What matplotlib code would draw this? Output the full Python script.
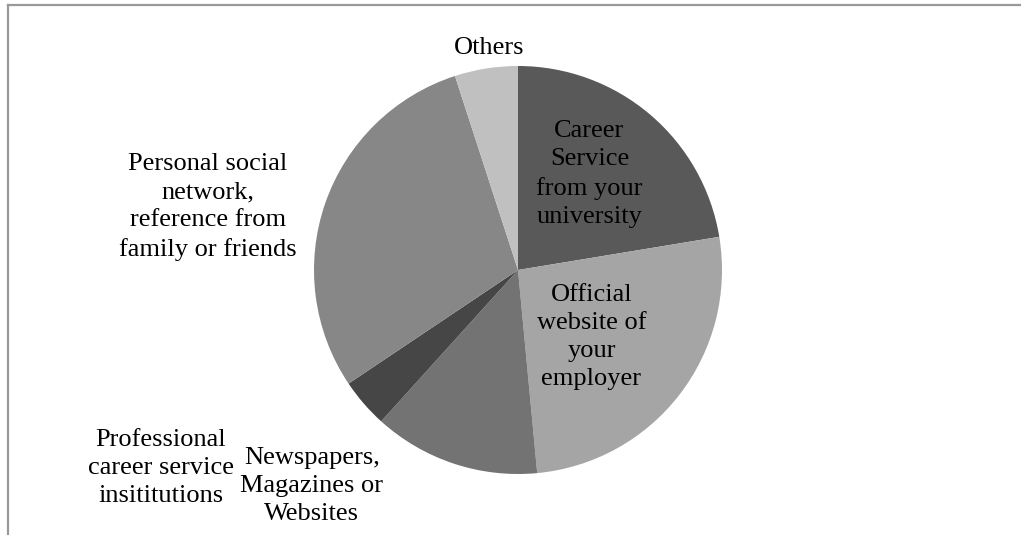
import matplotlib
matplotlib.use("Agg")
import matplotlib.pyplot as plt
from matplotlib.lines import Line2D

# channels used to find the job (share of answers, %)
channels = ["Career\nService\nfrom your\nuniversity",
            "Official\nwebsite of\nyour\nemployer",
            "Newspapers,\nMagazines or\nWebsites",
            "Professional\ncareer service\ninsititutions",
            "Personal social\nnetwork,\nreference from\nfamily or friends",
            "Others"]
shares = [22.4, 26.1, 13.2, 3.9, 29.4, 5.0]

greys = ["#595959", "#a5a5a5", "#737373", "#464646", "#878787", "#c0c0c0"]

# label centres in pie units (radius = 1)
label_pos = [(0.35, 0.47), (0.36, -0.33), (-1.01, -1.06),
             (-1.75, -0.97), (-1.52, 0.31), (-0.14, 1.09)]

W, H = 1021, 535
fig = plt.figure(figsize=(W / 100, H / 100), dpi=100)
cx, cy, r = 518, 270, 204
ax = fig.add_axes([(cx - r) / W, (H - cy - r) / H, 2 * r / W, 2 * r / H])

ax.pie(shares, colors=greys, startangle=90, counterclock=False,
       wedgeprops=dict(linewidth=0), radius=1)
ax.set_xlim(-1, 1)
ax.set_ylim(-1, 1)
ax.set_aspect("equal")
ax.axis("off")

for txt, (x, y) in zip(channels, label_pos):
    ax.text(x, y, txt, ha="center", va="center", fontsize=19,
            family="Liberation Serif", color="black", linespacing=1.36,
            clip_on=False)

# chart frame (only top and left edges visible)
fig.add_artist(Line2D([8 / W, 1], [1 - 5 / H, 1 - 5 / H], color="#999999",
                      lw=1.6, transform=fig.transFigure))
fig.add_artist(Line2D([8 / W, 8 / W], [0, 1 - 5 / H], color="#999999",
                      lw=1.6, transform=fig.transFigure))

fig.savefig("out.png", dpi=100, facecolor="white")
